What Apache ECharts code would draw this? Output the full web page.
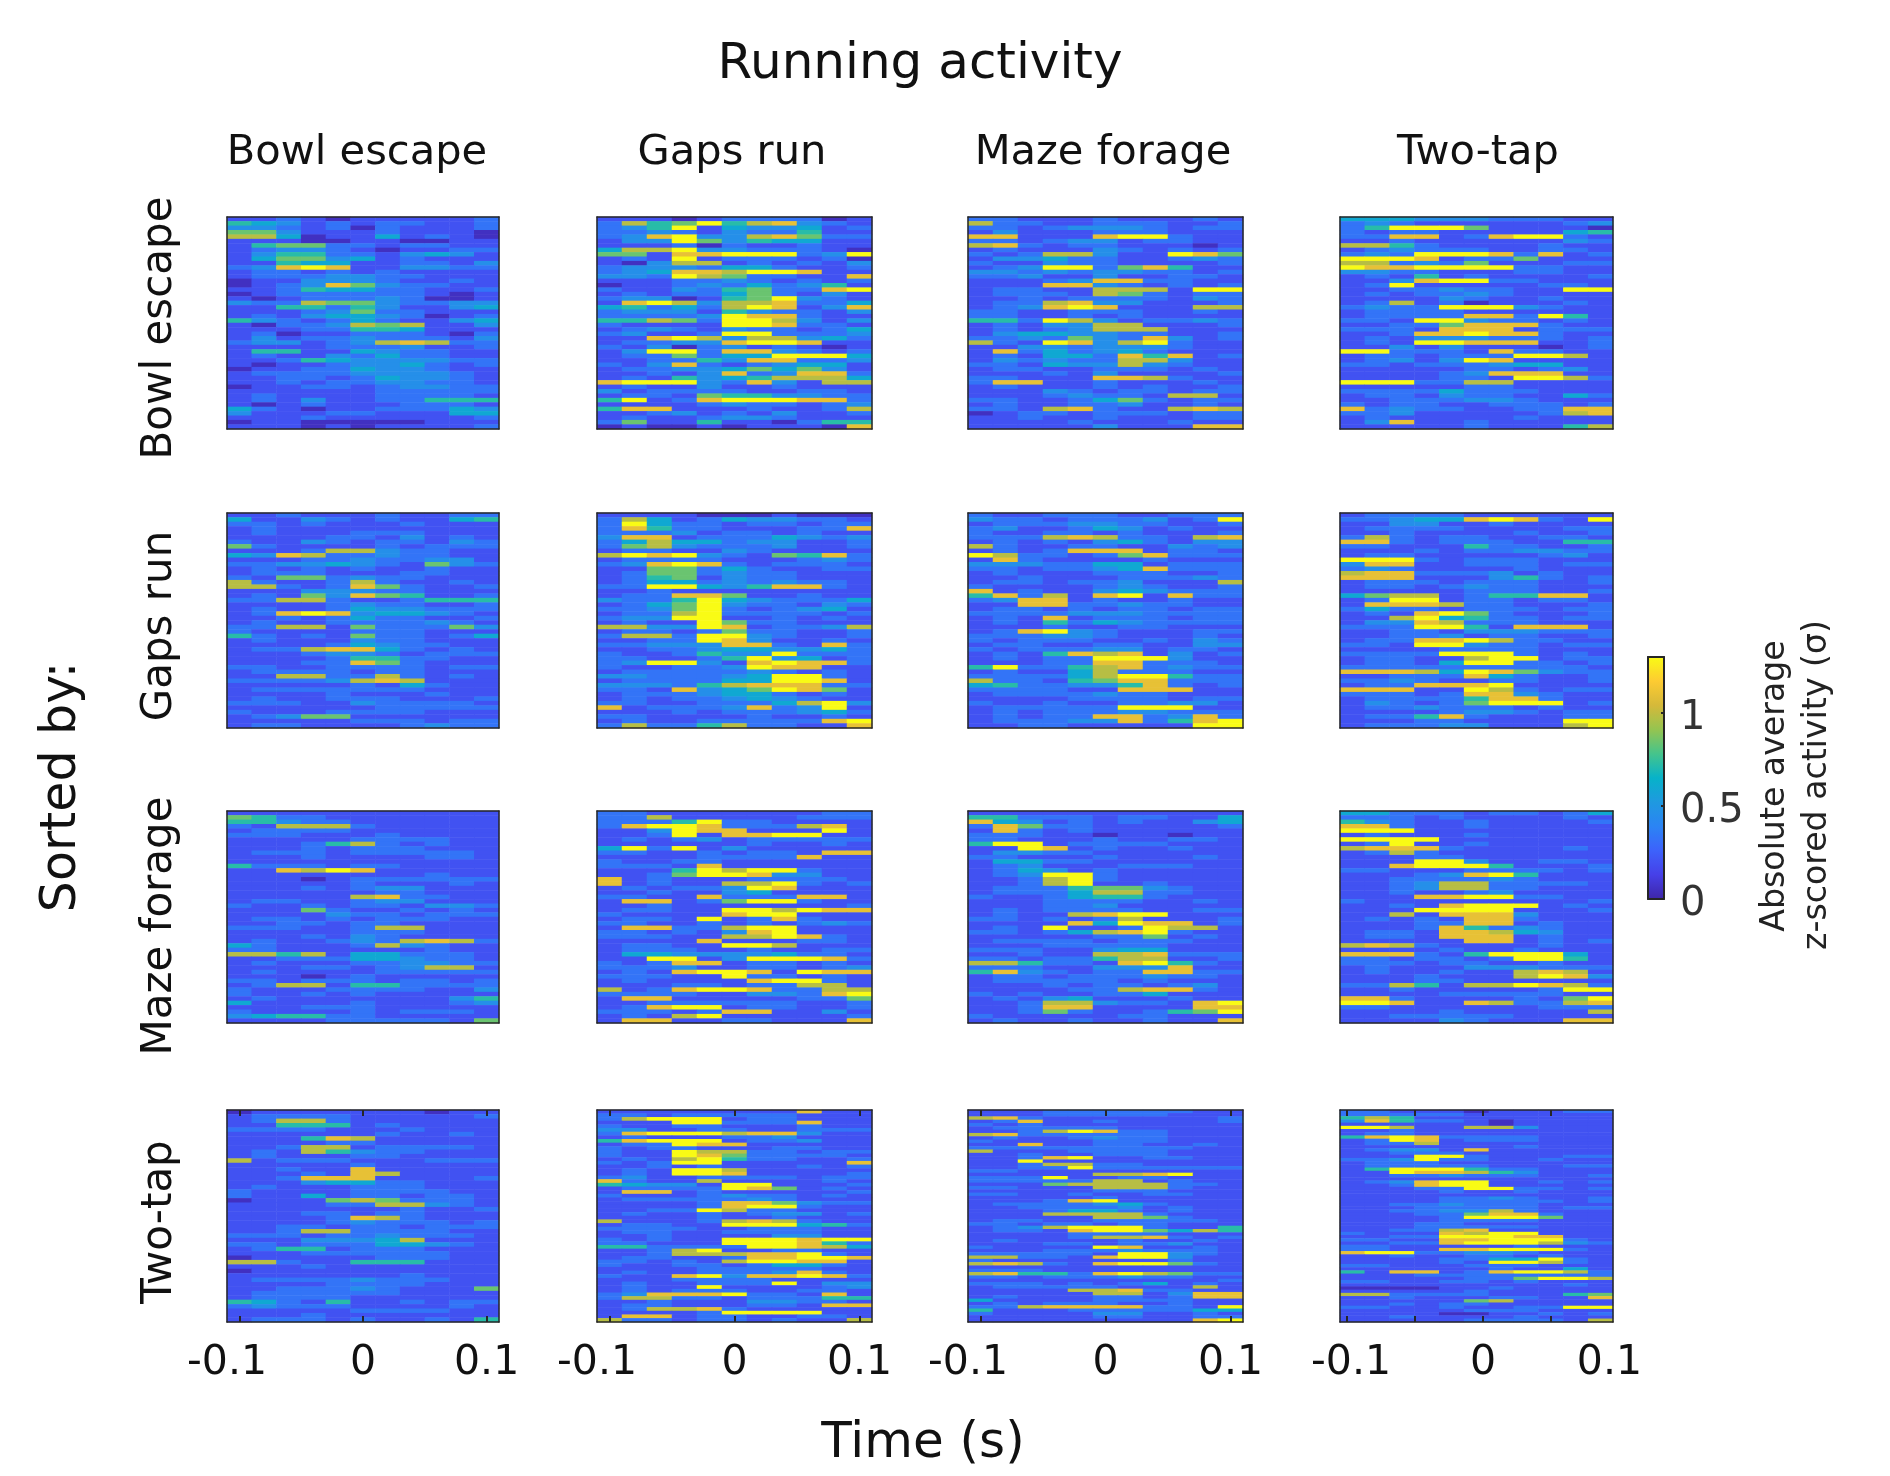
<!DOCTYPE html>
<html><head><meta charset="utf-8">
<style>html,body{margin:0;padding:0;background:#fff}#c{width:1890px;height:1476px}</style>
<script src="https://cdn.jsdelivr.net/npm/echarts@6/dist/echarts.min.js"></script>
</head><body><div id="c"></div>
<script>
const taskNames = ['Bowl escape','Gaps run','Maze forage','Two-tap'];
const chartTitle = 'Running activity';
const xTitle = 'Time (s)';
const rowsTitle = 'Sorted by:';
const cbTitle = ['Absolute average','z-scored activity (σ)'];
const timeBins = ['-0.10','-0.08','-0.06','-0.04','-0.02','0','0.02','0.04','0.06','0.08','0.10'];
const cbTicks = [0,0.5,1];
const sigmaLevels = [0.05,0.2,0.33,0.46,0.6,0.72,0.84,0.98,1.1,1.3];

const bowlBowl = ['11210111112','54312122112','33212021112','66311121110','77401141210','11100110011','15662212211','12332101122','13552213431','14663412111','11544112213','23898113322','12212121111','12223322111','01133321121','01238632211','11254422112','01222222101','10122232001','32276632233','11552531134','11123622111','12134432012','53212421134','10223767113','11122554111','12011222102','13122322213','23312378722','11112223112','15511432211','12113242211','11254333322','10112334212','01122433211','12222333321','11221243321','11212233221','01122123322','11111122222','12111122221','12131122555','10121112221','42101122243','31112211144','11121111112','01100000111','11101011112'];
const gapsBowl = ['11101222201','27569578321','23591433412','22321322511','23893378622','13396354411','11120211211','47793322210','66188999239','12191222120','10377121213','23332442112','23488799811','33297622118','11122321212','01123242351','21132562289','12122462131','23301569321','18973778224','45242798138','23331532213','22223988211','55762997313','21111998221','12321322124','23112992223','11897377342','12233899811','21302312101','13992883212','12262449994','11225388223','21382123441','12233464631','11213823882','12153457774','89993283177','12113112111','31222211221','12216553322','59128999882','11112322123','58811121127','11231213112','12112332111','26115110255','01001011108'];
const mazeBowl = ['22111211121','72211222112','22123332122','13111222111','88111899211','22123312211','78212211101','12111321212','21277311986','13342211232','21132211112','12399268511','33232332212','22311311221','11123882211','11188321212','12211777199','12221762122','11212222132','12278331112','12389811177','22112221121','22112121111','55297312232','12133771112','12123777111','13443322112','22326328312','72198379211','11332333211','18242342111','12144285812','13232277311','22143373211','12211222121','11121311112','22111887211','28811211121','12111212112','11132122122','11123221771','22112462122','12112231121','22178211787','01221222122','11211211122','11112111211','11111311188'];
const twoBowl = ['44433322211','23211111123','25999611110','21221111145','22881289921','11211111132','77521111211','12322211221','23299982812','99981226111','77232611122','98899992211','33221112211','12151211112','11389922111','12911111221','11223221199','12122321111','11113211211','12712011121','23229993211','12222111111','12222882951','22199322121','11226888211','22218881222','11288988211','12133322212','12199888112','11313111012','99222182211','12212229971','12313981111','22122234411','11111221231','11112388811','11112219972','99922771111','11111221111','22224222111','12213221142','11222332111','21221122212','82322112288','22311111278','12111112111','13811211111','11111211157'];

const bowlGaps = ['11211121122','41132121145','22121112111','12111111111','12111222111','11112213121','21132122132','62111121222','11127732211','43872232211','11122322331','22334321632','12121211211','12221112211','21662322111','72112721121','77212862112','11133322111','12163865112','22772112555','11112322112','12112433222','12898344321','11212422112','12112222321','22771622263','21111222111','52121622124','12111322111','11112432211','12278842121','11123321222','11112552211','11122862111','22112222122','12222122111','11772272121','22223787111','11111214211','12222222111','11112111211','12112221112','22211322221','11111122222','21112222111','12366111111','11111222122','12211112322'];
const gapsGaps = ['11110001000','27412433221','29422122122','28522111228','22231221211','38812224323','24744233112','26732223112','12211321111','79893216582','12222111232','23898212221','11662421122','12662322111','12561322111','12442323221','22994358821','11211111111','12288611211','32259432224','12469322132','22369212341','12279222212','23399112121','12119622111','77339812237','12212622112','27729932112','11229831121','22333882182','11223443342','21125339222','22112593412','23993189882','21122398811','12222232121','33222349921','12222449981','33325788822','22183469861','12223442121','12122343211','22112224793','81222382391','11121222342','22111121121','12112222289','27225722118'];
const mazeGaps = ['21122211222','32212223129','12223322112','23112431211','21122121112','22278722178','12121342133','72112211323','12128881221','97221268222','18211112111','33322441222','22122348222','12111222112','11211122232','12212231117','21111232112','81211343222','58271891822','23881211211','11882232211','12212122122','22223332222','12181222122','12152432222','11121122111','12893211122','22233211121','21222112132','12211221133','21222331221','12158781312','12122999311','11122882221','59225782322','12114722211','22224799522','72215688222','45223358212','22221188811','12222322111','11112222122','21121122331','12222299911','12122233222','12122882382','12223382589','11221111199'];
const twoGaps = ['12222111111','22344898219','11331121111','12222111122','11211112112','27212211221','88212221155','22111522112','11121223322','12211111231','99921222111','38811222122','23211112111','78822231211','88811135212','12221222112','12212322111','11111222112','46771255881','12991221221','18887221112','24221222122','12189621112','11794522122','13387222111','22299518881','11221333222','11223122112','12288972211','22199322122','11112222111','22229992121','12211799122','12214992212','22222222221','88874986322','11222842112','22321122112','12288891111','88811972122','22212883211','12222588211','13212699912','12232221211','11112332122','12258211122','11122111199','12223311179'];

const bowlMaze = ['11111111111','65221111111','55322111111','21777211111','12222111111','22211121111','11111222211','11125721211','11121222111','12221222221','11121111221','11111111111','52221221111','11879811111','11111111211','11101222222','11111211121','11121233111','11111122111','11111782211','12211233111','21121221332','11162112121','11113221222','12212122211','11221221111','22211277111','11111222111','11121321111','12112327872','42111273211','22111111211','77571442221','11222443221','12111223322','11122123771','12111122222','11101211111','22122212212','12771552222','21112222113','21121211111','12111111135','41111211123','11122211111','21111212221','34552211111','11112222216'];
const gapsMaze = ['22111111122','22711111222','22259221111','28998222781','11398811191','11291889911','12123122222','11111121121','49291311111','22112122188','11112222811','21122111111','22218111111','11159799211','11269983311','81211122221','81211779212','12122398111','11211341111','22118222881','18812699211','11211111112','12211997988','21111899111','12219128211','22112121232','18822799111','22121389111','22211779821','11118111221','12211997111','12221121122','14433334221','11991399982','21288122121','22231122123','12189981988','22211922121','12111189921','11122122771','71289982277','22221133289','18811111226','11222222112','12899122112','22212881131','12179111112','18811221118'];
const mazeMaze = ['11111111111','55222122114','84312121134','28622111112','18212111111','22211011011','22111211221','59912222111','11981211211','13322111111','22111211121','14422111111','12311122211','12431211111','12399211111','11279211111','11279112111','12225663211','12224772211','21124552111','11122221121','11122311111','12122221122','12117899111','22121271112','11118498812','12191129771','22124789211','11111226121','12222122211','11122222111','22211344111','11211778222','22122577112','77522189521','22211333811','58321228822','12212223221','12222212111','11121221231','11112278821','21211224111','12134111211','11277322189','11288111188','11262112569','21111122111','12112112118'];
const twoMaze = ['44222122124','22212111121','53211211112','88211211111','99911111111','12111211111','99991111111','12911211111','78882111121','12721111111','11122111111','11199311221','11899951112','22111222212','11123895111','11222232111','11237722221','11237722111','11211231111','11188992211','21111111112','11218999121','11199991112','11718883111','12121882111','11122881211','11128523211','12218874311','12218881211','11111881212','78721111211','11112112111','88821599941','22122129951','22212211211','12111333222','12112117871','11121117983','11122111111','22751779872','11211111299','11112222211','88211112169','99811872278','22111111222','11112111117','11222221111','11113211188'];

const bowlTwo = ['01111111011','12222111112','12772111111','11555121111','22221112111','11111121121','11158711111','11112211111','11277122221','12175322111','12111221111','71222111222','11111211111','11211811111','11121871111','11288811112','11134422111','12111222111','21111222211','21141221221','01116762221','11112277321','11111112112','11122122111','11112872111','11112322212','11221221222','11277222211','22212232221','11133347111','22122244321','12551222111','11122222211','01111122211','77211555111','11121111111','01111111111','11111112111','12222322211','11112222111','11222321116','12222221111','12222111111','54215112122','23222111121','11111222211','11121111111','12221211215'];
const gapsTwo = ['11111111811','22122222111','27999122111','11199222811','21122111211','33112211222','28999788311','12111223111','58999122311','12298811111','21221112211','21197722122','21198622221','12179522112','21299111118','11212111212','12199711111','12199811112','23112222122','82117111121','54331991112','12222986121','18812111112','21112322121','12222232111','11112886322','11112899211','11229722111','12112123312','11112112111','71112787211','12211999452','22221122211','12211222211','11211113311','21211999899','22111999852','55222299874','11279112211','11277788921','12211288998','22121799881','21122124421','11112222211','12112223821','21189388982','11122221111','12112229133','12119111123','12122211221','23888922181','27722122255','11211133221','12211122188','12778211111','11112999911','18812211221','72212212117'];
const mazeTwo = ['11122222211','11122222111','78211111112','12811211112','21211111111','12222211111','11279822111','78222222111','12112322111','21111222111','11811221121','22222222211','71112222111','11211222111','11289112211','11911111111','11277221111','11229222222','22111111111','11111778911','22291122111','22222771211','11167777221','22111777211','11111222111','22112112211','11111211111','11128911111','12222342111','11222231211','11124421211','11177772111','11111776211','12211222221','22122122111','12379992115','12218996475','11112222111','11112778212','12111121121','11122122311','21111981121','11122232221','22222199321','77221899311','21111111211','78721899621','11111111111','22211111111','78552897622','22122232211','11111111112','22212124121','12222211171','11117782211','11111771388','12111221288','41111222211','12122211211','22788882219','51112222244','21111331121','11111221122','11111111189'];
const twoTwo = ['22111011122','22222111111','57511111111','38522101111','11111101111','99711773111','11211111111','12211111111','58982222111','12981222111','12271111111','11111112111','12331811111','11222111111','11199211122','22392211211','12221111111','12222211122','15999522111','11988753111','11223222112','11111111111','12389911212','11289911111','11122992212','11112112111','11111111111','11112232112','11112222212','11223222111','11122222122','11223372111','11122688211','11112999611','11112222111','11122111111','11122222111','11227811111','21118799111','11229998811','22118899921','11228999732','22111112111','22118899921','89922332111','11211221211','11112244921','11112199721','22111222111','11111121141','51881289972','11122222222','11111226997','22112212111','11111111121','00001121111','11111211111','77222211156','11211122118','11111671111','11212211111','22112112299','11111222111','11110011212','11211112111','11111222217'];

const panels = [
  [bowlBowl, gapsBowl, mazeBowl, twoBowl],
  [bowlGaps, gapsGaps, mazeGaps, twoGaps],
  [bowlMaze, gapsMaze, mazeMaze, twoMaze],
  [bowlTwo,  gapsTwo,  mazeTwo,  twoTwo]
];

const colLeft=[227,597,968,1340], colWidth=[272,275,275,273];
const rowTop=[217,513,811,1110], rowHeight=[212,215,212,212];
const ink='#262626';
const lineStyle={color:ink,width:1.5};
const grid=[],xAxis=[],yAxis=[],series=[];
function frameAxes(g,opts){
  const o=opts||{};
  const hide={show:false};
  const base=(pos)=>({gridIndex:g,type:'value',z:5,position:pos,min:o.min,max:o.max,
    axisLine:{show:true,onZero:false,lineStyle},splitLine:hide,axisTick:hide,axisLabel:hide});
  const xb=base('bottom'),xt=base('top');
  if(o.ticks){
    const tick={show:true,inside:true,length:6,customValues:o.ticks,lineStyle:{color:ink,width:2}};
    xb.axisTick=tick; xt.axisTick=tick;
    xb.axisLabel={show:true,customValues:o.labels,margin:21,fontFamily:'DejaVu Sans',fontSize:41,color:'#111',
      showMinLabel:true,showMaxLabel:true,formatter:v=>{const s=Math.round(v*10)/10;return s===0?'0':String(s);}};
  }
  return {xb,xt};
}
for(let r=0;r<4;r++)for(let c=0;c<4;c++){
  const g=grid.length;
  grid.push({left:colLeft[c],top:rowTop[r],width:colWidth[c],height:rowHeight[r],containLabel:false});
  const rows=panels[r][c];
  const xi=xAxis.length, yi=yAxis.length;
  xAxis.push({gridIndex:g,type:'category',show:false,data:timeBins,position:'bottom'});
  yAxis.push({gridIndex:g,type:'category',show:false,inverse:true,data:rows.map((_,i)=>i),position:'left'});
  let opt;
  if(r===3){
    opt = c===3 ? {min:-0.1051,max:0.0956,ticks:[-0.1,-0.05,0,0.05],labels:[-0.097,0,0.093]}
                : {min:-0.11,max:0.11,ticks:[-0.1,0,0.1],labels:[-0.11,0,0.1]};
  } else opt={min:-0.11,max:0.11};
  const {xb,xt}=frameAxes(g,opt);
  xAxis.push(xb,xt);
  const yl=(pos)=>({gridIndex:g,type:'value',z:5,position:pos,min:0,max:1,axisLine:{show:true,onZero:false,lineStyle},
    splitLine:{show:false},axisTick:{show:false},axisLabel:{show:false}});
  yAxis.push(yl('left'),yl('right'));
  const data=[];
  rows.forEach((s,i)=>{for(let k=0;k<s.length;k++)data.push([k,i,sigmaLevels[+s[k]]]);});
  series.push({type:'heatmap',xAxisIndex:xi,yAxisIndex:yi,data,silent:true,progressive:0,emphasis:{disabled:true},itemStyle:{borderWidth:0}});
}
// colorbar frame and ticks
{
  const g=grid.length;
  grid.push({left:1648,top:657,width:16,height:242});
  const hide={show:false};
  const cl={show:true,onZero:false,lineStyle:{color:ink,width:2}};
  xAxis.push({gridIndex:g,type:'value',z:5,position:'bottom',min:0,max:1,axisLine:cl,splitLine:hide,axisTick:hide,axisLabel:hide});
  xAxis.push({gridIndex:g,type:'value',z:5,position:'top',min:0,max:1,axisLine:cl,splitLine:hide,axisTick:hide,axisLabel:hide});
  yAxis.push({gridIndex:g,type:'value',z:5,position:'left',min:0,max:1.3,axisLine:cl,splitLine:hide,axisTick:hide,axisLabel:hide});
  yAxis.push({gridIndex:g,type:'value',z:5,position:'right',min:0,max:1.3,axisLine:cl,splitLine:hide,
    axisTick:{show:true,inside:true,length:3,customValues:cbTicks,lineStyle:{color:ink,width:2}},axisLabel:hide});
}
const txt=(text,x,y,size,rot,color,align)=>({type:'text',x,y,rotation:rot||0,silent:true,
  style:{text,fontFamily:'DejaVu Sans',fontSize:size,fill:color||'#111',align:align||'center',verticalAlign:'middle'}});
const up=Math.PI/2;
const colCentre=[357,732,1103,1478], rowCentre=[328,626,926,1222];
const graphic=[
  txt(chartTitle,920,65,50),
  txt(xTitle,923,1444,50),
  txt(rowsTitle,62,787,49,up),
  txt(cbTitle[0],1775,786,33.2,up,'#222'),
  txt(cbTitle[1],1817,785,33.2,up,'#222')
];
taskNames.forEach((n,i)=>{graphic.push(txt(n,colCentre[i],153,41.6));graphic.push(txt(n,160,rowCentre[i],42,up));});
cbTicks.forEach(v=>graphic.push(txt(String(v),1680,905-186*v,40,0,'#333','left')));

const chart=echarts.init(document.getElementById('c'),null,{renderer:'canvas',width:1890,height:1476});
chart.setOption({
  animation:false,backgroundColor:'#fff',grid,xAxis,yAxis,series,graphic,
  visualMap:{type:'continuous',min:0,max:1.3,show:true,calculable:false,realtime:false,hoverLink:false,
    left:1648,top:657,itemWidth:16,itemHeight:242,padding:0,text:null,showLabel:false,
    seriesIndex:series.map((_,i)=>i),
    inRange:{color:['#3E26A8','#4640E8','#3D62FB','#2B84F4','#1F99E0','#07B2C9','#45C48C','#95C450','#D5B93A','#FDCB32','#F9FB15']}}
});
</script></body></html>
